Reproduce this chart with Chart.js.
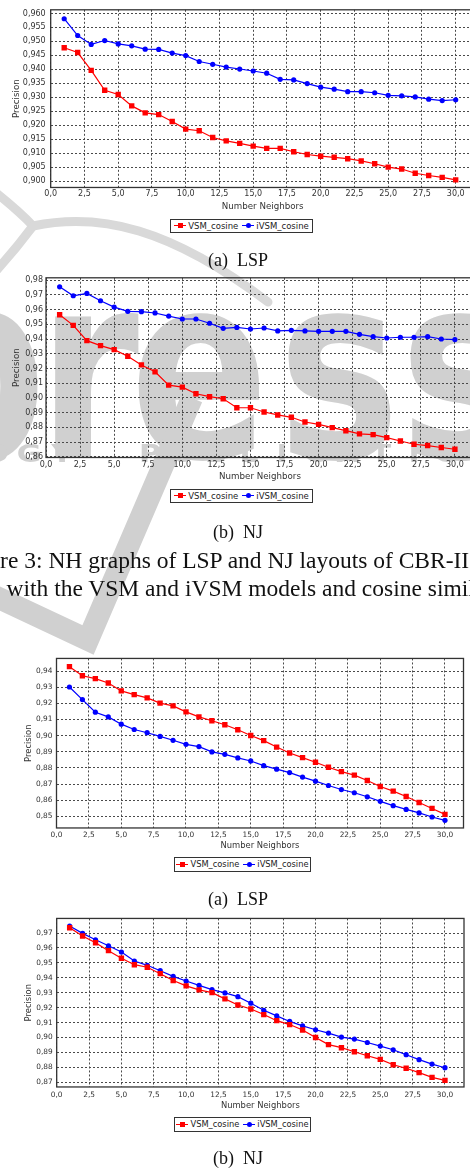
<!DOCTYPE html>
<html>
<head>
<meta charset="utf-8">
<script src="https://cdn.jsdelivr.net/npm/chart.js@4.4.1/dist/chart.umd.min.js"></script>
<style>
html, body { margin: 0; padding: 0; background: #fff; }
body { width: 470px; height: 1169px; overflow: hidden; position: relative; }
#wm { position: absolute; left: 0; top: 0; }
canvas.chart { position: absolute; left: 0; }
.legend { position: absolute; box-sizing: border-box; border: 1px solid #333; background: #fff;
  display: flex; align-items: center; justify-content: center; font-family: "DejaVu Sans"; color: #222; white-space: nowrap; }
.legend span.txt { margin-right: 4px; }
.key { position: relative; display: inline-block; width: 12px; height: 8px; margin-right: 2px; }
.key i { position: absolute; left: 0; right: 0; top: 3.4px; height: 1.2px; }
.key b { position: absolute; left: 3.5px; top: 1.5px; width: 5px; height: 5px; }
.sub { position: absolute; font: 18px/18px "Liberation Serif"; white-space: pre; color: #111; transform: translateX(-50%); }
.cap { position: absolute; font: 23.5px/23.5px "Liberation Serif"; white-space: pre; color: #111; }
</style>
</head>
<body>
<canvas id="wm" width="470" height="1169"></canvas>
<canvas id="c1" class="chart"></canvas>
<canvas id="c2" class="chart"></canvas>
<canvas id="c3" class="chart"></canvas>
<canvas id="c4" class="chart"></canvas>

<div class="sub" style="left:238px;top:250.6px">(a)  LSP</div>
<div class="sub" style="left:238px;top:522.6px">(b)  NJ</div>
<div class="cap" style="left:-43px;top:548.5px">Figure 3: NH graphs of LSP and NJ layouts of CBR-II</div>
<div class="cap" style="left:6.5px;top:576.5px">with the VSM and iVSM models and cosine similarity.</div>
<div class="sub" style="left:238px;top:890px">(a)  LSP</div>
<div class="sub" style="left:238px;top:1149.2px">(b)  NJ</div>

<script>
// x values (number of neighbors)
const neighbors = [1, 2, 3, 4, 5, 6, 7, 8, 9, 10, 11, 12, 13, 14, 15, 16, 17, 18, 19, 20,
                   21, 22, 23, 24, 25, 26, 27, 28, 29, 30];
const seriesNames = ['VSM_cosine', 'iVSM_cosine'];

// top figure, LSP
const lspTopVsm = [0.9477, 0.9460, 0.9396, 0.9325, 0.9310, 0.9269, 0.9244, 0.9238, 0.9213, 0.9186,
                   0.9180, 0.9156, 0.9144, 0.9135, 0.9125, 0.9117, 0.9117, 0.9105, 0.9095, 0.9089,
                   0.9085, 0.9080, 0.9072, 0.9062, 0.9050, 0.9043, 0.9028, 0.9020, 0.9013, 0.9004];
const lspTopIvsm = [0.9581, 0.9521, 0.9489, 0.9503, 0.9491, 0.9484, 0.9472, 0.9471, 0.9458, 0.9449,
                    0.9428, 0.9418, 0.9408, 0.9401, 0.9394, 0.9386, 0.9364, 0.9362, 0.9349, 0.9336,
                    0.9329, 0.9320, 0.9320, 0.9316, 0.9307, 0.9305, 0.9301, 0.9293, 0.9288, 0.9291];
// top figure, NJ
const njTopVsm = [0.9565, 0.9493, 0.9389, 0.9355, 0.9328, 0.9283, 0.9224, 0.9177, 0.9087, 0.9073,
                  0.9028, 0.9008, 0.8994, 0.8933, 0.8933, 0.8904, 0.8884, 0.8868, 0.8836, 0.8820,
                  0.8798, 0.8777, 0.8755, 0.8750, 0.8730, 0.8707, 0.8685, 0.8676, 0.8663, 0.8651];
const njTopIvsm = [0.9755, 0.9694, 0.9710, 0.9660, 0.9617, 0.9588, 0.9586, 0.9577, 0.9556, 0.9536,
                   0.9536, 0.9507, 0.9473, 0.9479, 0.9468, 0.9475, 0.9455, 0.9459, 0.9455, 0.9452,
                   0.9452, 0.9452, 0.9432, 0.9416, 0.9407, 0.9412, 0.9412, 0.9416, 0.9400, 0.9396];
// bottom figure, LSP
const lspBotVsm = [0.9427, 0.9371, 0.9353, 0.9326, 0.9277, 0.9254, 0.9234, 0.9201, 0.9184, 0.9147,
                   0.9116, 0.9092, 0.9067, 0.9036, 0.9001, 0.8969, 0.8929, 0.8892, 0.8864, 0.8835,
                   0.8804, 0.8777, 0.8755, 0.8722, 0.8685, 0.8656, 0.8623, 0.8586, 0.8549, 0.8512];
const lspBotIvsm = [0.9301, 0.9223, 0.9145, 0.9116, 0.9071, 0.9038, 0.9018, 0.8995, 0.8971, 0.8946,
                    0.8932, 0.8899, 0.8884, 0.8862, 0.8843, 0.8814, 0.8792, 0.8771, 0.8743, 0.8718,
                    0.8691, 0.8666, 0.8646, 0.8621, 0.8593, 0.8566, 0.8543, 0.8521, 0.8496, 0.8475];
// bottom figure, NJ
const njBotVsm = [0.9736, 0.9680, 0.9635, 0.9582, 0.9531, 0.9488, 0.9471, 0.9428, 0.9382, 0.9346,
                  0.9319, 0.9301, 0.9259, 0.9218, 0.9191, 0.9154, 0.9113, 0.9087, 0.9051, 0.9000,
                  0.8953, 0.8932, 0.8905, 0.8878, 0.8854, 0.8818, 0.8794, 0.8765, 0.8733, 0.8713];
const njBotIvsm = [0.9747, 0.9698, 0.9655, 0.9615, 0.9573, 0.9513, 0.9484, 0.9448, 0.9410, 0.9379,
                   0.9350, 0.9321, 0.9299, 0.9274, 0.9230, 0.9183, 0.9145, 0.9108, 0.9078, 0.9052,
                   0.9030, 0.9003, 0.8990, 0.8967, 0.8943, 0.8918, 0.8885, 0.8852, 0.8822, 0.8798];

// tick values
const xTicks = [0, 2.5, 5, 7.5, 10, 12.5, 15, 17.5, 20, 22.5, 25, 27.5, 30];
const lspTopTicks = [0.900, 0.905, 0.910, 0.915, 0.920, 0.925, 0.930, 0.935, 0.940, 0.945, 0.950, 0.955, 0.960];
const njTopTicks = [0.86, 0.87, 0.88, 0.89, 0.90, 0.91, 0.92, 0.93, 0.94, 0.95, 0.96, 0.97, 0.98];
const lspBotTicks = [0.85, 0.86, 0.87, 0.88, 0.89, 0.90, 0.91, 0.92, 0.93, 0.94];
const njBotTicks = [0.87, 0.88, 0.89, 0.90, 0.91, 0.92, 0.93, 0.94, 0.95, 0.96, 0.97];

const RED = '#ff0000', BLUE = '#0000ff';
const CW = 480; // canvas wider than the page: plot runs off the right edge like the original

// placement of each panel on the page
const panels = [
  { id: 'c1', vsm: lspTopVsm, ivsm: lspTopIvsm, yTicks: lspTopTicks, dec: 3, yMin: 0.8977, yMax: 0.9613, xMax: 31.4,
    top: 0, pTop: 7.3, pLeft: 50.7, pRight: 474.6, pBottom: 186.7, xTitleY: 206, yTitleX: 16.7,
    tick: 8, title: 8.7, yPad: 5, xPad: 1.6, legend: [170, 218.5, 143, 14], legendFont: 8.5 },
  { id: 'c2', vsm: njTopVsm, ivsm: njTopIvsm, yTicks: njTopTicks, dec: 2, yMin: 0.8595, yMax: 0.9816, xMax: 31.4,
    top: 270, pTop: 277.7, pLeft: 46, pRight: 474, pBottom: 456.7, xTitleY: 476, yTitleX: 16.7,
    tick: 8, title: 8.7, yPad: 3, xPad: 2.4, legend: [170, 488.5, 143, 14], legendFont: 8.5 },
  { id: 'c3', vsm: lspBotVsm, ivsm: lspBotIvsm, yTicks: lspBotTicks, dec: 2, yMin: 0.8428, yMax: 0.9478, xMax: 31.43,
    top: 650, pTop: 656.7, pLeft: 56.5, pRight: 463.5, pBottom: 827, xTitleY: 845, yTitleX: 29,
    tick: 7.4, title: 8.4, yPad: 4, xPad: 2.5, legend: [174, 857, 137, 14.5], legendFont: 8.3 },
  { id: 'c4', vsm: njBotVsm, ivsm: njBotIvsm, yTicks: njBotTicks, dec: 2, yMin: 0.8669, yMax: 0.9798, xMax: 31.47,
    top: 910, pTop: 917.7, pLeft: 56.7, pRight: 464, pBottom: 1086.7, xTitleY: 1105.7, yTitleX: 29,
    tick: 7.4, title: 8.4, yPad: 4, xPad: 3.4, legend: [174, 1116.7, 137, 15], legendFont: 8.3 }
];

// watermark behind everything
(function drawWatermark() {
  const w = document.getElementById('wm').getContext('2d');
  // thin swoosh lines
  w.strokeStyle = '#d9d9d9';
  w.lineWidth = 9;
  w.lineCap = 'round';
  w.beginPath(); w.moveTo(-5, 192); w.quadraticCurveTo(20, 212, 33, 226); w.stroke();
  w.beginPath(); w.moveTo(33, 226); w.quadraticCurveTo(15, 250, -5, 272); w.stroke();
  w.beginPath(); w.moveTo(33, 226); w.bezierCurveTo(100, 212, 170, 228, 268, 302); w.stroke();
  // big letters
  w.fillStyle = '#d0d0d0';
  w.save();
  w.beginPath(); w.rect(0, 0, 470, 461); w.clip();
  w.font = 'bold 256px "DejaVu Sans"';
  [['p', -100], ['r', 38], ['e', 130], ['s', 278], ['s', 400]].forEach(([c, x]) => {
    w.save(); w.translate(x, 457); w.scale(0.8, 1); w.fillText(c, 0, 0); w.restore();
  });
  w.restore();
  // band of spaced capitals
  w.font = 'bold 24px "DejaVu Sans"';
  w.textAlign = 'center';
  const row = (s, x0) => {
    [...s].forEach((c, i) => {
      w.save(); w.translate(x0 + i * 33, 462); w.scale(1.25, 1); w.fillText(c, 0, 0); w.restore();
    });
  };
  row('OLOGY', -70);
  row('PUBLICATIONS', 150);
  // check mark
  w.strokeStyle = '#d0d0d0';
  w.lineWidth = 22;
  w.lineCap = 'butt';
  w.lineJoin = 'miter';
  w.beginPath(); w.moveTo(-10, 594); w.lineTo(88, 640); w.lineTo(192, 398); w.stroke();
})();

const framePlugin = {
  id: 'frame',
  beforeDatasetsDraw(chart) {
    const a = chart.chartArea, ctx = chart.ctx;
    ctx.save();
    ctx.strokeStyle = '#333';
    ctx.lineWidth = 1.3;
    ctx.strokeRect(a.left, a.top, a.right - a.left, a.bottom - a.top);
    ctx.restore();
  }
};

function fmt(v, d) { return v.toFixed(d).replace('.', ','); }

function legendHtml(p) {
  const [l, t, wd, ht] = p.legend;
  const key = (col, round) =>
    '<span class="key"><i style="background:' + col + '"></i><b style="background:' + col +
    (round ? ';border-radius:50%' : '') + '"></b></span>';
  const div = document.createElement('div');
  div.className = 'legend';
  div.style.cssText = 'left:' + l + 'px;top:' + t + 'px;width:' + wd + 'px;height:' + ht + 'px;font-size:' + p.legendFont + 'px';
  div.innerHTML = key(RED, false) + '<span class="txt">' + seriesNames[0] + '</span>' +
                  key(BLUE, true) + '<span class="txt" style="margin-right:0">' + seriesNames[1] + '</span>';
  document.body.appendChild(div);
}

function makeChart(p) {
  const lh = p.title * 1.2;
  const bottom = p.xTitleY + lh / 2;
  const cv = document.getElementById(p.id);
  cv.width = CW;
  cv.height = Math.ceil(bottom - p.top);
  cv.style.top = p.top + 'px';
  const xh = bottom - p.pBottom;
  const tickFont = { family: 'DejaVu Sans', size: p.tick };
  const titleFont = { family: 'DejaVu Sans', size: p.title };
  const gridOpts = { color: '#4a4a4a', lineWidth: 1, drawTicks: false };
  const borderOpts = { display: false, dash: [2, 2] };

  new Chart(cv, {
    type: 'line',
    data: {
      datasets: [
        { label: seriesNames[0], data: neighbors.map((x, i) => ({ x: x, y: p.vsm[i] })),
          borderColor: RED, backgroundColor: RED, borderWidth: 1.2,
          pointStyle: 'rect', pointRadius: 3.8, pointBorderWidth: 0, tension: 0 },
        { label: seriesNames[1], data: neighbors.map((x, i) => ({ x: x, y: p.ivsm[i] })),
          borderColor: BLUE, backgroundColor: BLUE, borderWidth: 1.2,
          pointStyle: 'circle', pointRadius: 2.6, pointBorderWidth: 0, tension: 0 }
      ]
    },
    options: {
      responsive: false,
      animation: false,
      layout: { padding: { top: p.pTop - p.top, right: CW - p.pRight, left: 0, bottom: 0 } },
      plugins: { legend: { display: false }, tooltip: { enabled: false } },
      scales: {
        x: {
          type: 'linear', bounds: 'data', min: 0, max: p.xMax,
          afterBuildTicks: s => { s.ticks = xTicks.map(v => ({ value: v })); },
          afterFit: s => { s.height = xh; },
          ticks: { font: tickFont, color: '#333', padding: p.xPad, maxRotation: 0, autoSkip: false,
                   callback: v => fmt(v, 1) },
          grid: gridOpts, border: borderOpts,
          title: { display: true, text: 'Number Neighbors', font: titleFont, color: '#333', padding: 0 }
        },
        y: {
          type: 'linear', bounds: 'data', min: p.yMin, max: p.yMax,
          afterBuildTicks: s => { s.ticks = p.yTicks.map(v => ({ value: v })); },
          afterFit: s => { s.width = p.pLeft; },
          ticks: { font: tickFont, color: '#333', padding: p.yPad, autoSkip: false,
                   callback: v => fmt(v, p.dec) },
          grid: gridOpts, border: borderOpts,
          title: { display: true, text: 'Precision', font: titleFont, color: '#333',
                   padding: { top: p.yTitleX - lh / 2, bottom: 0 } }
        }
      }
    },
    plugins: [framePlugin]
  });
  legendHtml(p);
}

panels.forEach(makeChart);
</script>
</body>
</html>
